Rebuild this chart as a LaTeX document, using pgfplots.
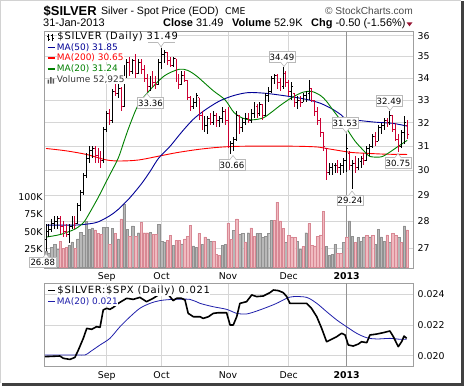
\documentclass[border=0pt]{standalone}
\usepackage{fontspec}
\setmainfont{Liberation Sans}
\newfontfamily\dv{DejaVu Sans}
\newfontfamily\dvls[LetterSpace=7]{DejaVu Sans}
\usepackage{pgfplots}
\usepackage{pgfplotstable}
\pgfplotsset{compat=1.18}
\definecolor{barred}{RGB}{204,0,51}
\definecolor{ma50}{RGB}{0,0,150}
\definecolor{ma200}{RGB}{255,0,0}
\definecolor{ma20}{RGB}{0,128,0}
\definecolor{volgray}{RGB}{184,184,184}
\definecolor{volgrayd}{RGB}{145,145,145}
\definecolor{volpink}{RGB}{240,186,192}
\definecolor{volpinkd}{RGB}{216,136,148}
\definecolor{gridc}{RGB}{214,214,214}
\definecolor{lblbox}{RGB}{185,185,185}
\definecolor{ratioblue}{RGB}{30,30,170}
\definecolor{darkred}{RGB}{150,20,50}
\pgfdeclareplotmark{ctick}{\pgfpathmoveto{\pgfqpoint{0pt}{0pt}}\pgfpathlineto{\pgfqpoint{1.4pt}{0pt}}\pgfusepathqstroke}
\pgfdeclareplotmark{otick}{\pgfpathmoveto{\pgfqpoint{0pt}{0pt}}\pgfpathlineto{\pgfqpoint{-1.4pt}{0pt}}\pgfusepathqstroke}
\pgfplotstableread{
x o h l c
0 27.3 27.9 26.88 27.6
1 27.6 27.9 27.4 27.7
2 27.7 28.1 27.6 27.9
3 27.9 28.2 27.7 28.0
4 28.0 28.2 27.7 28.1
8 27.5 27.9 27.2 27.8
9 27.8 28.2 27.7 28.1
11 27.9 28.7 27.9 28.6
12 28.6 29.2 28.4 29.1
13 29.1 29.9 29.0 29.8
14 29.8 30.7 29.7 30.5
15 30.5 31.0 30.3 30.8
16 30.8 31.0 30.5 30.9
20 30.4 31.8 30.3 31.7
21 31.7 32.5 31.6 32.4
23 32.1 33.5 32.0 33.4
25 33.3 33.8 33.1 33.5
27 32.7 34.6 32.7 34.4
28 34.4 34.9 34.0 34.7
30 34.3 34.9 34.2 34.8
32 34.2 34.9 34.2 34.7
36 33.6 34.1 33.4 33.9
39 33.7 34.9 33.7 34.7
40 34.7 35.4 34.4 35.1
41 35.1 35.3 34.7 35.2
44 34.6 35.0 34.5 34.9
47 33.7 34.3 33.7 34.1
51 32.7 33.1 32.6 32.9
52 32.9 33.3 32.7 33.2
55 31.8 32.3 31.6 31.9
56 31.9 32.3 31.5 32.2
58 32.0 32.5 31.9 32.3
60 32.1 32.3 31.8 32.2
61 32.2 32.7 32.0 32.5
64 31.0 31.2 30.66 31.1
65 31.1 31.4 30.8 31.3
66 31.3 32.5 31.2 32.3
68 31.8 32.2 31.6 32.0
69 32.0 32.4 31.9 32.2
71 32.1 32.6 32.0 32.4
72 32.4 32.9 32.2 32.7
74 32.4 32.9 32.3 32.8
76 32.3 33.3 32.3 33.2
77 33.2 33.6 32.9 33.4
78 33.4 34.1 33.3 34.0
79 34.0 34.2 33.7 34.1
82 33.6 34.49 33.5 34.2
85 33.4 33.8 33.0 33.6
87 32.9 33.2 32.6 33.0
89 32.9 33.3 32.9 33.2
90 33.2 33.4 32.9 33.3
91 33.3 33.9 33.0 33.6
98 29.9 30.3 29.8 30.1
99 30.1 30.3 29.8 30.2
100 30.2 30.3 29.9 30.25
102 30.1 30.3 29.8 30.2
103 30.2 30.5 29.9 30.4
104 30.4 31.53 29.95 30.9
106 30.2 30.4 29.24 30.3
108 30.1 30.5 30.0 30.35
109 30.35 30.6 30.1 30.5
111 30.4 31.0 30.4 30.9
112 30.9 31.1 30.6 31.0
113 31.0 31.5 30.9 31.4
115 31.2 31.9 31.2 31.8
116 31.8 32.0 31.5 31.9
117 31.9 32.2 31.7 32.1
119 32.0 32.49 31.9 32.3
123 31.0 31.7 30.9 31.6
124 31.6 32.3 31.1 31.99
}\pup
\pgfplotstableread{
x o h l c
5 28.1 28.2 27.5 27.8
6 27.8 28.0 27.4 27.6
7 27.6 27.9 27.4 27.5
10 28.1 28.2 27.7 27.9
17 30.9 31.0 30.3 30.6
18 30.6 30.9 30.3 30.5
19 30.5 30.8 30.1 30.4
22 32.4 32.6 31.9 32.1
24 33.4 33.7 33.2 33.3
26 33.5 33.6 32.5 32.7
29 34.7 35.0 34.1 34.3
31 34.8 35.1 34.0 34.2
33 34.7 34.9 34.2 34.4
34 34.4 34.6 33.8 34.0
35 34.0 34.2 33.36 33.6
37 33.9 34.3 33.6 33.8
38 33.8 34.1 33.5 33.7
42 35.2 35.2 34.6 34.8
43 34.8 35.0 34.5 34.6
45 34.9 34.9 33.8 34.0
46 34.0 34.2 33.5 33.7
48 34.1 34.3 33.8 33.9
49 33.9 33.9 33.0 33.1
50 33.1 33.2 32.5 32.7
53 33.1 33.1 32.1 32.3
54 32.3 32.5 31.7 31.75
57 32.2 32.4 31.9 32.0
59 32.3 32.4 31.8 32.1
62 32.5 32.6 31.9 32.1
63 32.1 32.7 30.9 31.0
67 32.3 32.3 31.5 31.8
70 32.2 32.4 32.0 32.1
73 32.7 32.8 32.2 32.4
75 32.8 32.8 32.1 32.3
80 34.1 34.2 33.5 33.8
81 33.8 34.0 33.4 33.6
83 34.2 34.3 33.6 33.8
84 33.8 33.9 33.2 33.4
86 33.3 33.3 32.7 32.9
88 33.0 33.2 32.7 32.9
92 33.5 33.5 32.9 33.0
93 33.0 33.0 32.3 32.5
94 32.5 32.7 31.9 32.1
95 32.1 32.2 31.4 31.6
96 31.6 31.6 30.8 31.0
97 30.9 30.9 29.6 29.9
101 30.2 30.4 29.9 30.1
105 30.7 30.8 30.0 30.2
107 30.3 30.6 29.9 30.1
110 30.5 30.7 30.2 30.4
114 31.4 31.6 31.0 31.2
118 32.1 32.2 31.8 32.0
120 32.3 32.3 31.6 31.7
121 31.7 32.0 31.2 31.3
122 31.3 31.5 30.75 31.0
125 31.9 32.1 31.3 31.49
}\pdn
\pgfplotstableread{
x v
0 22
1 20
2 28
3 32
4 25
8 31
9 36
11 40
12 50
13 45
14 65
15 54
16 56
20 57
21 57
23 55
25 40
27 90
28 54
30 59
32 49
36 50
39 61
40 37
41 36
44 31
47 33
51 30
52 28
54 32
56 40
57 37
61 31
62 32
65 52
67 47
68 48
70 49
73 48
74 48
75 42
76 44
77 48
78 67
83 35
87 37
88 25
90 49
97 29
98 16
99 18
100 32
103 35
105 66
106 44
108 42
109 37
110 43
112 43
114 32
115 54
116 43
117 37
119 35
122 42
124 59
}\vup
\pgfplotstableread{
x v
5 37
6 27
7 28
10 27
17 53
18 48
19 47
22 32
24 48
26 69
29 44
31 44
33 64
34 49
35 49
37 47
38 47
42 38
43 45
45 38
46 38
48 40
49 44
50 60
53 48
55 43
58 37
59 18
60 16
63 63
64 39
66 69
69 36
71 56
72 44
79 67
80 93
81 66
82 55
84 45
85 43
86 42
89 29
91 62
92 31
93 30
94 44
95 46
96 80
101 19
102 19
104 43
107 35
111 45
113 45
118 46
120 48
121 45
123 35
125 53
}\vdn
\newcommand\tfont{\dv\fontsize{9.4}{9.4}\selectfont}
\pgfplotsset{
  base/.style={scale only axis, anchor=north west, width=368.5bp, xmin=-0.52, xmax=127},
  gridded/.style={
    xtick={21,40,63,84}, xticklabels={Sep,Oct,Nov,Dec},
    extra x ticks={104}, extra x tick labels={\textbf{2013}},
    extra x tick style={major grid style={draw=gray!85, line width=0.7bp}},
    grid=major, major grid style={draw=gridc, line width=0.6bp},
    major tick length=0pt,
    axis line style={draw=gray!75, line width=0.7bp},
    tick label style={font=\tfont},
    yticklabel pos=right,
    yticklabel style={anchor=west, xshift=1.2bp},
    scaled y ticks=false, scaled x ticks=false,
  }
}
\begin{document}
\begin{tikzpicture}
\useasboundingbox (0,0) rectangle (464bp,-387bp);
% background grid and labels of price panel
\begin{axis}[base, gridded, at={(44.5bp,-31.7bp)}, height=236.8bp,
  ymode=log, ymin=26.26, ymax=36.2,
  ytick={27,28,29,30,31,32,33,34,35,36},
  yticklabels={27,28,29,30,31,32,33,34,35,36},
  xticklabel style={yshift=-1bp}]
\end{axis}
% volume
\begin{axis}[base, at={(44.5bp,-31.7bp)}, height=236.8bp,
  ymin=-2.4, ymax=337.8, axis line style={draw=none}, xtick=\empty,
  ytick={25,50,75,100}, yticklabels={25K,50K,75K,100K},
  yticklabel pos=left, major tick length=0pt, scaled y ticks=false,
  yticklabel style={font=\tfont, xshift=1.5bp}]
\addplot[ybar, bar width=2.4bp, bar shift=0pt, fill=volgray, draw=volgrayd, line width=0.4bp] table[x=x,y=v]{\vup};
\addplot[ybar, bar width=2.4bp, bar shift=0pt, fill=volpink, draw=volpinkd, line width=0.4bp] table[x=x,y=v]{\vdn};
\end{axis}
% price bars and averages
\begin{axis}[base, at={(44.5bp,-31.7bp)}, height=236.8bp, hide axis,
  ymode=log, ymin=26.26, ymax=36.2]
\addplot[ma200, line width=0.9bp, smooth] coordinates {(0,30.9) (7,30.8) (14,30.65) (21,30.42) (26,30.38) (32,30.42) (39,30.58) (45,30.72) (52,30.85) (58,30.93) (64,30.98) (72,31.0) (80,31.0) (88,30.99) (94,30.96) (98,30.88) (102,30.8) (106,30.73) (112,30.69) (118,30.66) (125,30.65)};
\addplot[ma50, line width=0.9bp, smooth] coordinates {(0,27.85) (10,27.85) (15,27.9) (18,27.97) (22,28.2) (25,28.45) (29,28.9) (33,29.45) (36,29.95) (39,30.5) (43,31.0) (47,31.6) (51,32.15) (55,32.55) (60,32.95) (65,33.2) (70,33.33) (76,33.3) (82,33.2) (87,33.1) (91,33.0) (95,32.85) (99,32.6) (102,32.35) (104,32.15) (108,32.1) (114,32.02) (120,31.97) (125,31.85)};
\addplot[ma20, line width=0.9bp, smooth] coordinates {(0,27.4) (5,27.5) (10,27.7) (13,27.95) (15,28.3) (18,28.9) (20,29.35) (22,29.8) (25,30.5) (27,31.2) (29,31.9) (32,32.8) (36,33.45) (41,34.1) (46,34.4) (49,34.35) (52,34.1) (55,33.75) (58,33.4) (62,33.0) (65,32.45) (68,32.2) (71,32.12) (75,32.2) (78,32.45) (81,32.75) (85,33.1) (89,33.35) (92,33.38) (95,33.2) (97,32.95) (99,32.6) (102,32.1) (104,31.75) (107,31.2) (110,30.8) (112,30.57) (116,30.55) (119,30.75) (122,31.0) (125,31.24)};
\addplot[draw=none, error bars/.cd, y dir=both, y explicit, error mark=none,
  error bar style={draw=black, solid, line width=0.9bp}]
  table[x=x, y=c, y error plus expr=\thisrow{h}-\thisrow{c}, y error minus expr=\thisrow{c}-\thisrow{l}]{\pup};
\addplot[draw=none, error bars/.cd, y dir=both, y explicit, error mark=none,
  error bar style={draw=barred, solid, line width=0.9bp}]
  table[x=x, y=c, y error plus expr=\thisrow{h}-\thisrow{c}, y error minus expr=\thisrow{c}-\thisrow{l}]{\pdn};
\addplot[only marks, mark=ctick, mark options={draw=black, line width=0.8bp}] table[x=x,y=c]{\pup};
\addplot[only marks, mark=otick, mark options={draw=black, line width=0.8bp}] table[x=x,y=o]{\pup};
\addplot[only marks, mark=ctick, mark options={draw=barred, line width=0.8bp}] table[x=x,y=c]{\pdn};
\addplot[only marks, mark=otick, mark options={draw=barred, line width=0.8bp}] table[x=x,y=o]{\pdn};
\end{axis}
% ratio panel
\begin{axis}[base, gridded, at={(44.5bp,-283.3bp)}, height=82.7bp,
  ymin=0.019329, ymax=0.024717,
  ytick={0.020,0.022,0.024}, yticklabels={0.020,0.022,0.024},
  xticklabel style={yshift=-1.7bp}]
\addplot[ratioblue, line width=0.8bp, smooth] coordinates {(-0.35,0.02005) (10,0.02005) (13.5,0.02005) (15.3,0.02026) (18.7,0.0207) (22.1,0.02113) (25.6,0.02189) (29.1,0.02254) (32.5,0.02309) (36,0.02341) (39.4,0.02359) (44,0.02367) (49.8,0.02367) (53.3,0.02341) (57.9,0.02319) (62.5,0.02302) (66,0.02276) (69.4,0.02272) (72.9,0.02291) (76.4,0.02315) (79.8,0.02341) (83.3,0.02374) (85.6,0.02385) (90.2,0.0238) (93.7,0.02341) (97.1,0.02287) (100.6,0.02233) (104,0.02189) (107.5,0.02146) (111,0.02117) (114.4,0.02109) (119,0.02113) (122.5,0.02107) (124.8,0.02107)};
\addplot[black, line width=1.6bp, line join=round] coordinates {(-0.35,0.01994) (4.8,0.01998) (6,0.01983) (8.3,0.01976) (10,0.01989) (11.2,0.02037) (12.9,0.02113) (14.1,0.02178) (15.8,0.02172) (17.5,0.02189) (18.7,0.02185) (19.8,0.02298) (21,0.02309) (22.1,0.02302) (23.3,0.02315) (25,0.02341) (27.9,0.02374) (30.2,0.02367) (32.5,0.0238) (34.8,0.02352) (37.1,0.02374) (39.4,0.02402) (41.7,0.02411) (42.9,0.02385) (44,0.02359) (45.2,0.02374) (46.9,0.02374) (48.1,0.02363) (49.2,0.02276) (51,0.02254) (53.3,0.02254) (54.4,0.02243) (56.2,0.02254) (57.9,0.02276) (59.6,0.0228) (61.4,0.0228) (62.5,0.0228) (63.7,0.022) (64.8,0.022) (66,0.02254) (67.1,0.02341) (69.4,0.02352) (71.2,0.02396) (72.9,0.02385) (75.2,0.02389) (77.5,0.02411) (78.7,0.02428) (80.4,0.02424) (82.1,0.02411) (83.3,0.02385) (84.4,0.02341) (87.9,0.02341) (90.2,0.02341) (91.9,0.02308) (93.7,0.02254) (95.4,0.02178) (97.1,0.02091) (98.8,0.02107) (100.6,0.02124) (102.3,0.02146) (103.5,0.02135) (104.6,0.0207) (106.3,0.02063) (108.1,0.02076) (109.2,0.02091) (111,0.02085) (112.1,0.02135) (114.4,0.02141) (116.7,0.0215) (119,0.02161) (120.2,0.02124) (121.9,0.02059) (123.1,0.02092) (123.9,0.02128) (124.8,0.02113)};
\end{axis}
\begin{scope}[x=1bp, y=-1bp]
% frame shadow
\draw[gray!35, line width=0.6] (0.5,383) -- (0.5,0.5) -- (461,0.5);
\fill[gray!50!black] (461,1) rectangle (463.5,385.5);
\fill[gray!50!black] (2,383) rectangle (463.5,385.5);
% header
\node[anchor=base west, inner sep=0] at (43.5,15) {\fontsize{13}{13}\selectfont\bfseries \$SILVER};
\node[anchor=base west, inner sep=0] at (101,14) {\fontsize{10.6}{10.6}\selectfont Silver - Spot Price (EOD)};
\node[anchor=base west, inner sep=0] at (225,14) {\dv\fontsize{9.3}{9.3}\selectfont CME};
\node[anchor=base east, inner sep=0, text=gray!60!black] at (413,14) {\fontsize{10.2}{10.2}\selectfont © StockCharts.com};
\node[anchor=base west, inner sep=0] at (43,26.5) {\fontsize{11}{11}\selectfont 31-Jan-2013};
\node[anchor=base west, inner sep=0] at (163,26.5) {\fontsize{11}{11}\selectfont\textbf{Close} 31.49};
\node[anchor=base west, inner sep=0] at (232,26.5) {\fontsize{11}{11}\selectfont\textbf{Volume} 52.9K};
\node[anchor=base west, inner sep=0] at (311,26.5) {\fontsize{11}{11}\selectfont\textbf{Chg} -0.50 (-1.56\%)};
\fill[darkred] (406.5,22.3) -- (412.5,22.3) -- (409.5,26.3) -- cycle;
% value boxes
\tikzset{lb/.style={draw=lblbox, fill=white, line width=0.6bp, minimum width=26bp, minimum height=10.5bp, inner sep=0pt, font=\dv\fontsize{8.6}{8.6}\selectfont},
 pt/.style={draw=lblbox, fill=white, line width=0.6bp}}
\node[lb] at (161,36.8) {};
\draw[pt] (157.5,41.8) -- (161,46.8) -- (164.5,41.8);
\node[lb] at (150.5,103) {33.36};
\draw[pt] (143.5,98) -- (147,93.5) -- (150.5,98);
\node[lb] at (282,57) {34.49};
\draw[pt] (280.5,62) -- (284,66.5) -- (287.5,62);
\node[lb] at (232,165) {30.66};
\draw[pt] (229.5,160) -- (233,155.5) -- (236.5,160);
\node[lb] at (345,123) {31.53};
\draw[pt] (342.5,128) -- (346,132.5) -- (349.5,128);
\node[lb] at (350,200.5) {29.24};
\draw[pt] (348.5,195.5) -- (352,191) -- (355.5,195.5);
\node[lb] at (389,101) {32.49};
\draw[pt] (386.5,106) -- (390,110.5) -- (393.5,106);
\node[lb] at (398,163) {30.75};
\draw[pt] (394.5,158) -- (398,153.5) -- (401.5,158);
\node[lb] at (42.8,262.5) {26.88};
\draw[pt] (43,257.5) -- (46,253.5) -- (49,257.5);
% legend of price panel
\draw[black, line width=0.8] (48.5,34) -- (48.5,41) (47,36) -- (48.5,36) (48.5,39) -- (50,39) (52.5,33.5) -- (52.5,40.5) (51,35) -- (52.5,35) (52.5,38) -- (54,38);
\node[anchor=west, fill=white, inner sep=0.3bp] at (57,37) {\dvls\fontsize{10}{10}\selectfont \$SILVER (Daily) 31.49};
\draw[ma50, line width=1.6] (47.5,47.3) -- (55,47.3);
\node[anchor=west, fill=white, inner sep=0.3bp, text=ma50] at (56.5,47.3) {\dv\fontsize{9}{9}\selectfont MA(50) 31.85};
\draw[ma200, line width=1.6] (47.5,58) -- (55,58);
\node[anchor=west, fill=white, inner sep=0.3bp, text=ma200] at (56.5,58) {\dv\fontsize{9}{9}\selectfont MA(200) 30.65};
\draw[ma20, line width=1.6] (47.5,69) -- (55,69);
\node[anchor=west, fill=white, inner sep=0.3bp, text=ma20] at (56.5,69) {\dv\fontsize{9}{9}\selectfont MA(20) 31.24};
\fill[gray!70!black] (47.5,83.5) rectangle (49,79.5) (50,83.5) rectangle (51.5,77) (52.5,83.5) rectangle (54,78.5);
\node[anchor=west, fill=white, inner sep=0.3bp, text=gray!45!black] at (56.5,80) {\dv\fontsize{9}{9}\selectfont Volume 52,925};
% legend of ratio panel
\draw[black, line width=1.6] (48,290.7) -- (55,290.7);
\node[anchor=west, fill=white, inner sep=0.3bp] at (57,290.7) {\dvls\fontsize{10}{10}\selectfont \$SILVER:\$SPX (Daily) 0.021};
\draw[ratioblue, line width=1.6] (48,301.7) -- (55,301.7);
\node[anchor=west, fill=white, inner sep=0.3bp, text=ratioblue] at (56.5,301.7) {\dv\fontsize{9}{9}\selectfont MA(20) 0.021};
\end{scope}
\end{tikzpicture}
\end{document}
